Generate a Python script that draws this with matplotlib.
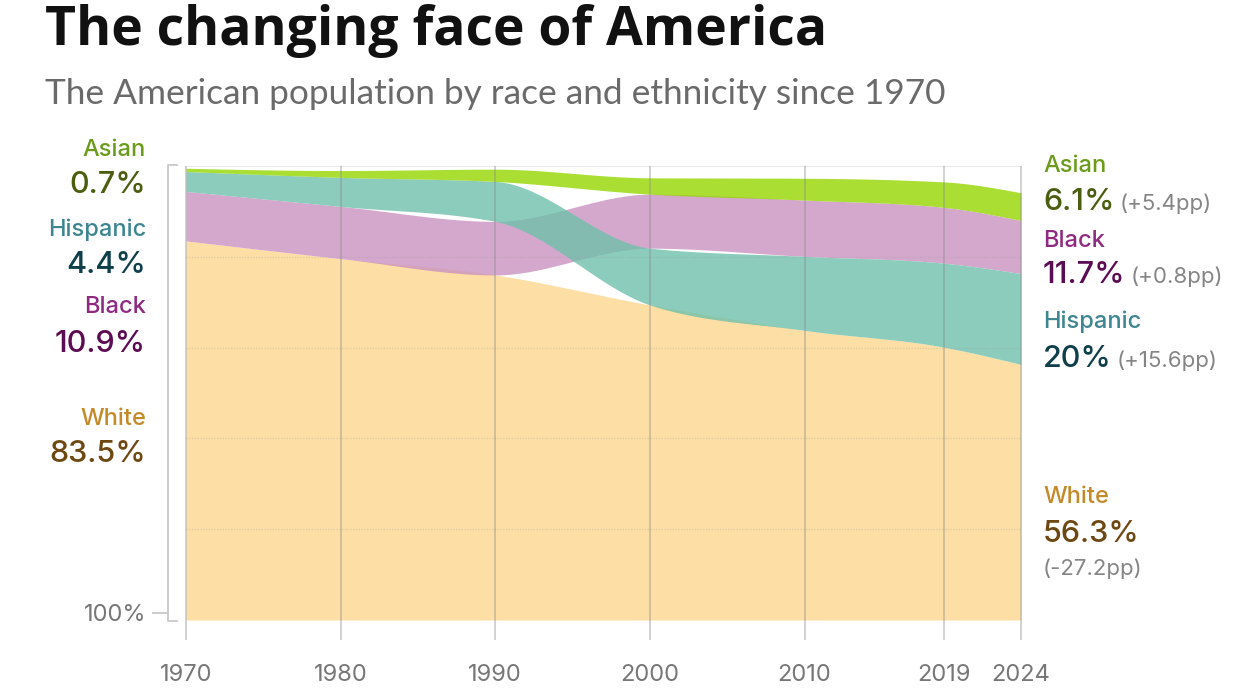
import numpy as np
import matplotlib
matplotlib.use("Agg")
import matplotlib.pyplot as plt
from matplotlib.lines import Line2D

# ---------------- data ----------------
years = [1970, 1980, 1990, 2000, 2010, 2019, 2024]
groups = ["White", "Black", "Hispanic", "Asian"]
white = [83.5, 79.6, 76.0, 69.4, 63.8, 60.1, 56.3]
black = [10.9, 11.5, 11.8, 11.9, 12.4, 12.3, 11.7]
hispanic = [4.4, 6.4, 8.8, 12.5, 16.3, 18.5, 20.0]
asian = [0.7, 1.5, 2.7, 3.6, 4.8, 5.6, 6.1]
title = "The changing face of America"
subtitle = "The American population by race and ethnicity since 1970"

values = {"White": white, "Black": black, "Hispanic": hispanic, "Asian": asian}

# styles
band_colors = {"White": "#fdd68f", "Black": "#ca92c0", "Hispanic": "#70c0ab", "Asian": "#95d600"}
label_colors = {"White": "#c48a2a", "Black": "#8e2a82", "Hispanic": "#3d8590", "Asian": "#6b9b1a"}
value_colors = {"White": "#6e4812", "Black": "#5c0c52", "Hispanic": "#0f3f4a", "Asian": "#4b5e10"}

W, H = 1245, 700
fig = plt.figure(figsize=(W / 100, H / 100), dpi=100)
fig.patch.set_facecolor("white")

def fx(x):
    return x / W

def fy(y):
    return 1 - y / H

# plot area: 1970 at x=186, 2024 at x=1021; 0 at y=620, 100 at y=166
ax = fig.add_axes([fx(186), fy(620), (1021 - 186) / W, (620 - 166) / H])
ax.set_xlim(years[0], years[-1])
ax.set_ylim(0, 100)
ax.axis("off")


def monotone(xs, ys, xq):
    xs = np.asarray(xs, float)
    ys = np.asarray(ys, float)
    n = len(xs)
    h = np.diff(xs)
    s = np.diff(ys) / h
    t = np.zeros(n)
    for i in range(1, n - 1):
        p = (s[i - 1] * h[i] + s[i] * h[i - 1]) / (h[i - 1] + h[i])
        t[i] = (np.sign(s[i - 1]) + np.sign(s[i])) * min(abs(s[i - 1]), abs(s[i]), 0.5 * abs(p))
    t[0] = (3 * s[0] - t[1]) / 2
    t[-1] = (3 * s[-1] - t[-2]) / 2
    idx = np.clip(np.searchsorted(xs, xq, side="right") - 1, 0, n - 2)
    x0 = xs[idx]; hh = h[idx]
    u = (xq - x0) / hh
    h00 = 2 * u**3 - 3 * u**2 + 1
    h10 = u**3 - 2 * u**2 + u
    h01 = -2 * u**3 + 3 * u**2
    h11 = u**3 - u**2
    return h00 * ys[idx] + h10 * hh * t[idx] + h01 * ys[idx + 1] + h11 * hh * t[idx + 1]


# ranked stacking: largest at the bottom in each year
n = len(years)
bottoms = {g: np.zeros(n) for g in groups}
tops = {g: np.zeros(n) for g in groups}
for i in range(n):
    order = sorted(groups, key=lambda g: -values[g][i])
    acc = 0.0
    for g in order:
        bottoms[g][i] = acc
        acc += values[g][i]
        tops[g][i] = acc

xq = np.linspace(years[0], years[-1], 1200)

# top reference line
ax.plot([years[0], years[-1]], [100, 100], color="#e9e9e9", lw=1.5, zorder=0.5)

for g in ["White", "Black", "Hispanic", "Asian"]:
    lo = monotone(years, bottoms[g], xq)
    hi = monotone(years, tops[g], xq)
    ax.fill_between(xq, lo, hi, color=band_colors[g], alpha=0.8, lw=0, zorder=1)

# horizontal faint grid
for v in [20, 40, 60, 80]:
    ax.plot([years[0], years[-1]], [v, v], color="#999999", alpha=0.25, lw=1,
            linestyle=(0, (1, 1)), zorder=2)

# vertical year lines
for yr in years:
    ax.plot([yr, yr], [100, -4.4], color="#888888", alpha=0.38, lw=1.4,
            clip_on=False, zorder=3, solid_capstyle="butt")

# year labels
for yr in years:
    ax.text(yr, -13.5, str(yr), ha="center", va="baseline", fontsize=17,
            color="#777777", family="Inter")

# y-axis bracket
fig.add_artist(Line2D([fx(177), fx(168), fx(168), fx(177)],
                      [fy(165), fy(165), fy(621), fy(621)],
                      color="#c8c8c8", lw=1.3))
fig.add_artist(Line2D([fx(153), fx(168)], [fy(613), fy(613)], color="#c8c8c8", lw=1.3))
fig.text(fx(146), fy(621), "100%", ha="right", va="baseline", fontsize=17,
         color="#777777", family="Inter")

# title and subtitle
fig.text(fx(45), fy(45), title, ha="left", va="baseline", fontsize=38.5,
         fontweight="bold", color="#111111", family="Open Sans")
fig.text(fx(45), fy(104), subtitle, ha="left", va="baseline", fontsize=25.4,
         color="#6a6a6a", family="Lato")

# left labels (1970 values)
left_pos = {"Asian": (156, 193), "Hispanic": (236, 273), "Black": (313, 352), "White": (425, 462)}
for g, (yl, yv) in left_pos.items():
    fig.text(fx(146), fy(yl), g, ha="right", va="baseline", fontsize=17,
             color=label_colors[g], family="Inter", fontweight="medium")
    fig.text(fx(146), fy(yv), f"{values[g][0]:g}%", ha="right", va="baseline",
             fontsize=22, color=value_colors[g], family="Inter", fontweight="medium")

# right labels (2024 values and change)
right_pos = {"Asian": (172, 210), "Black": (247, 283), "Hispanic": (328, 367), "White": (503, 542)}
renderer = fig.canvas.get_renderer()
for g, (yl, yv) in right_pos.items():
    fig.text(fx(1043), fy(yl), g, ha="left", va="baseline", fontsize=17,
             color=label_colors[g], family="Inter", fontweight="medium")
    t = fig.text(fx(1043), fy(yv), f"{values[g][-1]:g}%", ha="left", va="baseline",
                 fontsize=22, color=value_colors[g], family="Inter", fontweight="medium")
    diff = values[g][-1] - values[g][0]
    pp = f"({diff:+.1f}pp)"
    if g == "White":
        fig.text(fx(1043), fy(575), pp, ha="left", va="baseline", fontsize=16,
                 color="#858585", family="Inter")
    else:
        bb = t.get_window_extent(renderer)
        fig.text(bb.x1 / W + fx(5), fy(yv), pp, ha="left", va="baseline", fontsize=16,
                 color="#858585", family="Inter")

fig.savefig("out.png", dpi=100)
